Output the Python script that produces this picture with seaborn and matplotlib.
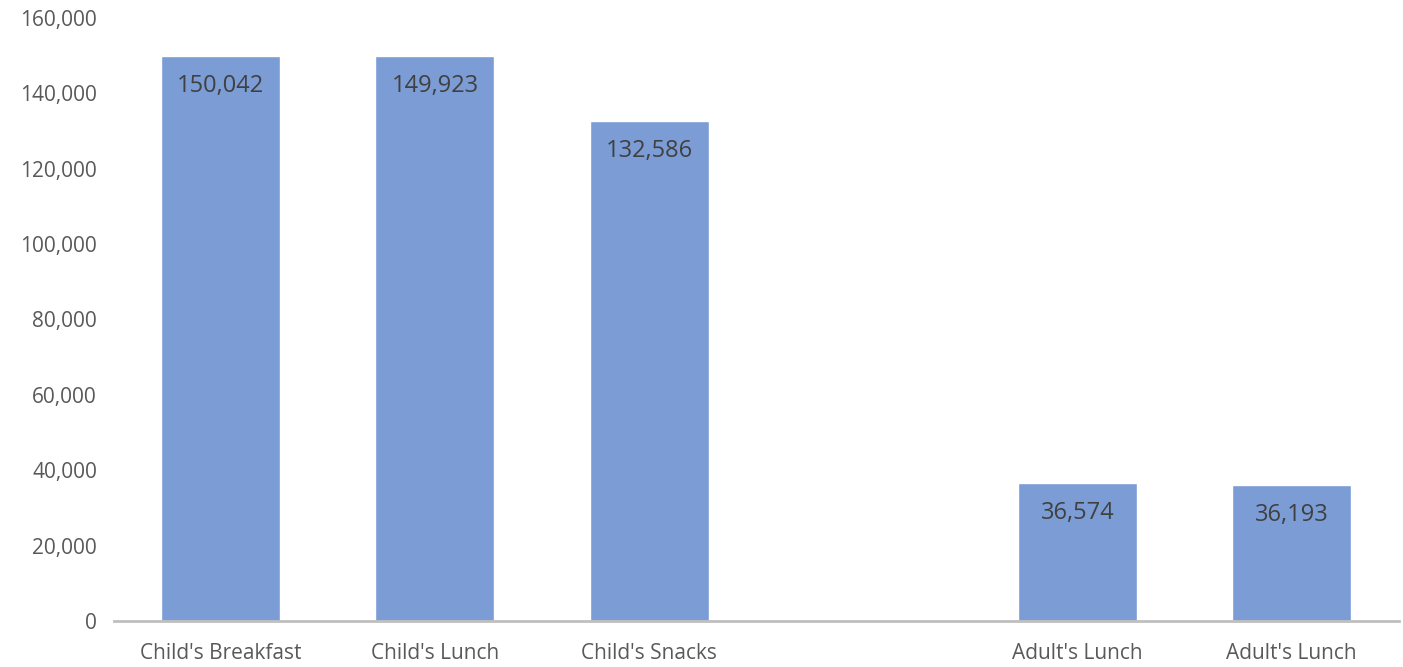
import matplotlib.pyplot as plt
import seaborn as sns
import numpy as np
import pandas as pd

# slot keys (unique) and their displayed labels; the 4th slot is an empty gap
slots = ["cb", "cl", "cs", "gap", "al1", "al2"]
labels = ["Child's Breakfast", "Child's Lunch", "Child's Snacks", "", "Adult's Lunch", "Adult's Lunch"]
values = [150042, 149923, 132586, np.nan, 36574, 36193]

df = pd.DataFrame({"slot": slots, "value": values})

sns.set_style("white")
plt.rcParams['font.family'] = ['Liberation Sans Narrow', 'Open Sans', 'DejaVu Sans']

fig, ax = plt.subplots(figsize=(14.03, 6.67), dpi=100)
sns.barplot(data=df, x="slot", y="value", order=slots, color="#7B9CD5",
            saturation=1, width=0.555, ax=ax)

# data labels inside the top of each bar
for bar in ax.patches:
    h = bar.get_height()
    if bar is None or np.isnan(h) or h == 0:
        continue
    ax.annotate(f"{int(round(h)):,}", (bar.get_x() + bar.get_width() / 2, h),
                xytext=(0, -30), textcoords="offset pixels", ha="center", va="center",
                fontsize=17, color="#404040")

ax.set_xticks(range(len(slots)))
ax.set_xticklabels(labels, fontsize=15, color="#595959")
ax.set_ylim(0, 160000)
ax.set_yticks(np.arange(0, 160001, 20000))
ax.set_yticklabels([f"{int(t):,}" for t in np.arange(0, 160001, 20000)], fontsize=15, color="#595959")
ax.set_xlim(-0.5, len(slots) - 0.5)
ax.set_xlabel("")
ax.set_ylabel("")
ax.tick_params(axis='y', length=0, pad=12)
ax.tick_params(axis='x', length=0, pad=16)

for s in ["top", "right", "left"]:
    ax.spines[s].set_visible(False)
ax.spines["bottom"].set_color("#BFBFBF")
ax.spines["bottom"].set_linewidth(2)

plt.subplots_adjust(left=0.081, right=0.997, bottom=0.069, top=0.973)
plt.savefig("out.png", dpi=100)
